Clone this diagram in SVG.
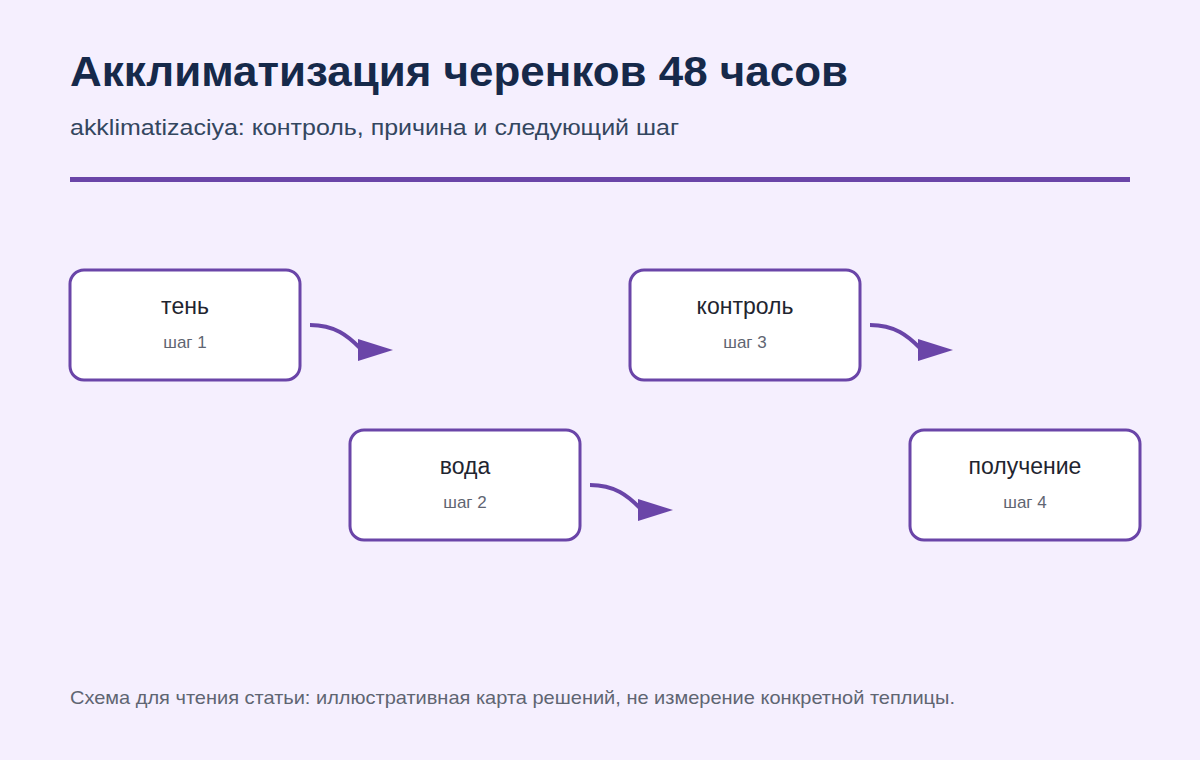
<svg xmlns="http://www.w3.org/2000/svg" width="1200" height="760" viewBox="0 0 1200 760">
<style>
.box{fill:#fff;stroke:#6a45a8;stroke-width:3}
.t{font-family:"Liberation Sans",Arial,sans-serif;font-size:23px;fill:#1f2530;text-anchor:middle}
.s{font-family:"Liberation Sans",Arial,sans-serif;font-size:17px;fill:#5f6572;text-anchor:middle}
.c{fill:none;stroke:#6a45a8;stroke-width:4}
</style>
<rect width="1200" height="760" fill="#f5effe"/>
<text x="70" y="86" font-family="'Liberation Sans',Arial,sans-serif" font-size="43" font-weight="bold" fill="#16294a" textLength="778" lengthAdjust="spacingAndGlyphs">Акклиматизация черенков 48 часов</text>
<text x="70" y="135" font-family="'Liberation Sans',Arial,sans-serif" font-size="22" fill="#33465f" textLength="609" lengthAdjust="spacingAndGlyphs">akklimatizaciya: контроль, причина и следующий шаг</text>
<rect x="70" y="177" width="1060" height="5" fill="#6a45a8"/>
<g id="connectors">
<path class="c" d="M310 325C335 325 348 336 360 348"/><path d="M358 339L393 350L358 361Z" fill="#6a45a8"/>
<path class="c" d="M590 485C615 485 628 496 640 508"/><path d="M638 499L673 510L638 521Z" fill="#6a45a8"/>
<path class="c" d="M870 325C895 325 908 336 920 348"/><path d="M918 339L953 350L918 361Z" fill="#6a45a8"/>
</g>
<g id="n1"><rect class="box" x="70" y="270" width="230" height="110" rx="14"/><text class="t" x="185" y="314">тень</text><text class="s" x="185" y="348">шаг 1</text></g>
<g id="n2"><rect class="box" x="350" y="430" width="230" height="110" rx="14"/><text class="t" x="465" y="474">вода</text><text class="s" x="465" y="508">шаг 2</text></g>
<g id="n3"><rect class="box" x="630" y="270" width="230" height="110" rx="14"/><text class="t" x="745" y="314">контроль</text><text class="s" x="745" y="348">шаг 3</text></g>
<g id="n4"><rect class="box" x="910" y="430" width="230" height="110" rx="14"/><text class="t" x="1025" y="474">получение</text><text class="s" x="1025" y="508">шаг 4</text></g>
<text x="70" y="704" font-family="'Liberation Sans',Arial,sans-serif" font-size="19" fill="#5f6572" textLength="885" lengthAdjust="spacingAndGlyphs">Схема для чтения статьи: иллюстративная карта решений, не измерение конкретной теплицы.</text>
</svg>
